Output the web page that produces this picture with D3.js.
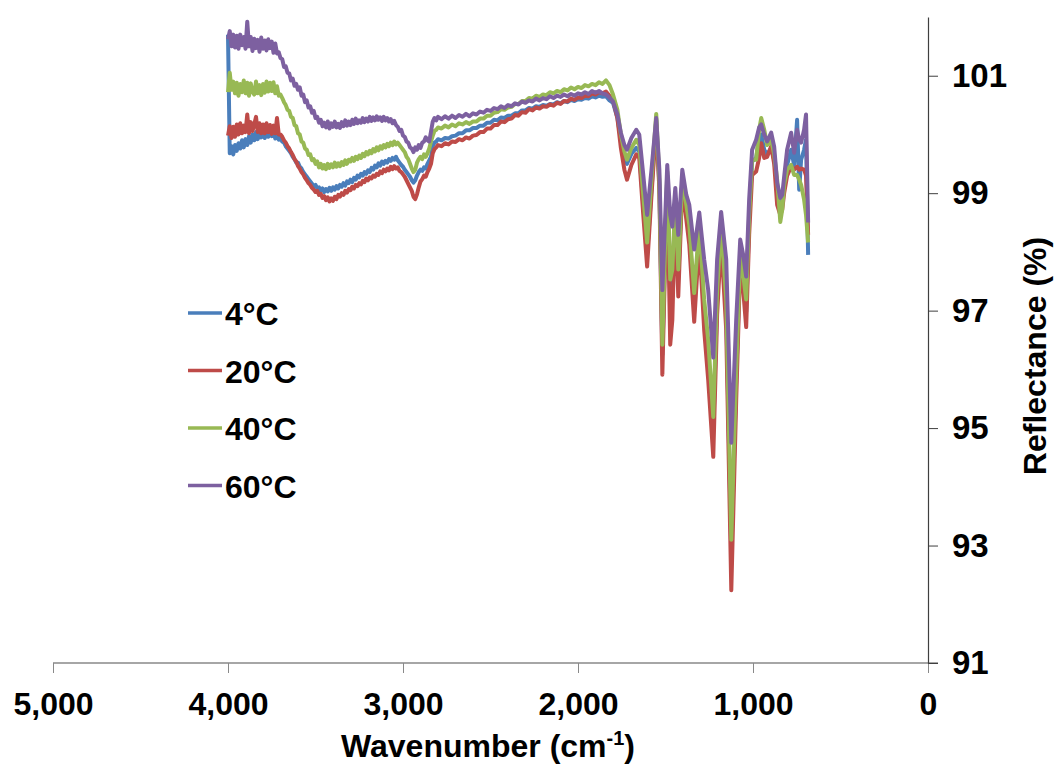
<!DOCTYPE html>
<html>
<head>
<meta charset="utf-8">
<script src="https://cdn.jsdelivr.net/npm/d3@7"></script>
<style>
  body { margin: 0; background: #fff; }
  svg { font-family: "Liberation Sans", Arial, sans-serif; font-weight: bold; }
</style>
</head>
<body>
<svg id="svg" width="1056" height="765"></svg>
<script>
// wavenumber grid (cm-1), same for all four spectra
var wavenumber = [
  4000,3990,3980,3970,3960,3950,3940,3930,3920,3910,
  3900,3890,3880,3870,3860,3850,3840,3830,3820,3810,
  3800,3790,3780,3770,3760,3750,3740,3730,3720,3710,
  3700,3690,3680,3670,3660,3650,3640,3630,3620,3610,
  3600,3590,3580,3570,3560,3550,3540,3530,3520,3510,
  3500,3490,3480,3470,3460,3450,3440,3430,3420,3410,
  3400,3390,3380,3370,3360,3350,3340,3330,3320,3310,
  3300,3290,3280,3270,3260,3250,3240,3230,3220,3210,
  3200,3190,3180,3170,3160,3150,3140,3130,3120,3110,
  3100,3090,3080,3070,3060,3050,3040,3030,3020,3010,
  3000,2990,2980,2970,2960,2950,2940,2930,2920,2910,
  2900,2890,2880,2870,2860,2850,2840,2830,2820,2810,
  2800,
  2780,2760,2740,2720,2700,2680,2660,2640,2620,2600,
  2580,2560,2540,2520,2500,2480,2460,2440,2420,2400,
  2380,2360,2340,2320,2300,2280,2260,2240,2220,2200,
  2180,2160,2140,2120,2100,2080,2060,2040,2020,2000,
  1980,1960,1940,1920,1900,1880,1860,1840,1820,
  1800,1775,1755,1735,1720,1695,1667,1650,1627,1605,
  1580,1553,1535,1518,1500,1490,1473,1461,1444,1427,
  1404,1381,1364,1336,1307,1279,1256,1227,1205,1182,
  1153,1124,1096,1073,1056,1039,1022,1005,982,965,
  953,936,919,896,879,862,844,833,822,805,
  782,765,748,736,725,708,697,685
];

var r4 = [ // 4°C
  101.70,99.68,99.80,99.66,99.82,99.72,99.85,99.76,99.90,99.78,
  99.92,99.82,99.97,99.86,100.00,99.90,100.04,99.92,100.06,99.95,
  100.05,99.94,100.07,99.96,100.06,99.97,100.05,99.93,100.01,99.91,
  99.94,99.88,99.86,99.80,99.76,99.72,99.68,99.62,99.58,99.52,
  99.52,99.45,99.42,99.36,99.32,99.28,99.24,99.20,99.16,99.12,
  99.14,99.08,99.10,99.04,99.08,99.02,99.07,99.03,99.09,99.04,
  99.10,99.06,99.12,99.08,99.14,99.11,99.17,99.13,99.20,99.17,
  99.23,99.19,99.26,99.23,99.30,99.27,99.33,99.30,99.36,99.33,
  99.39,99.36,99.43,99.40,99.47,99.44,99.51,99.47,99.54,99.50,
  99.55,99.52,99.58,99.55,99.60,99.57,99.62,99.56,99.52,99.48,
  99.45,99.40,99.36,99.32,99.28,99.22,99.18,99.22,99.30,99.36,
  99.40,99.38,99.44,99.42,99.50,99.56,99.62,99.80,99.86,99.88,
  99.92,
  99.90,99.94,99.93,99.97,99.98,100.02,100.02,100.07,100.07,100.11,
  100.11,100.15,100.15,100.20,100.20,100.25,100.24,100.29,100.28,100.32,
  100.32,100.36,100.36,100.41,100.41,100.45,100.44,100.48,100.47,100.50,
  100.49,100.52,100.51,100.55,100.53,100.57,100.55,100.59,100.57,100.60,
  100.59,100.62,100.61,100.65,100.63,100.66,100.64,100.65,100.58,
  100.54,100.28,99.91,99.62,99.50,99.67,99.77,99.71,98.80,97.95,
  99.06,100.25,99.14,96.25,98.29,99.30,97.19,97.44,98.80,97.53,
  99.23,98.72,98.34,97.10,98.38,96.93,96.25,94.97,97.19,98.38,
  97.02,92.84,95.82,97.90,97.49,96.98,98.55,99.54,99.60,99.91,
  100.00,99.74,99.66,99.77,99.57,99.14,98.80,98.89,99.14,99.48,
  99.74,99.48,100.25,99.06,99.57,99.74,99.91,97.95
];

var r20 = [ // 20°C
  99.98,100.14,99.94,100.13,99.96,100.17,100.00,100.19,100.02,100.15,
  100.04,100.34,100.02,100.21,100.06,100.17,100.30,100.04,100.19,100.02,
  100.17,100.02,100.19,100.04,100.16,100.01,100.15,100.02,100.28,100.00,
  100.00,99.96,99.90,99.86,99.80,99.76,99.70,99.65,99.58,99.54,
  99.46,99.42,99.36,99.32,99.26,99.22,99.17,99.14,99.09,99.06,
  99.02,99.04,98.97,98.99,98.92,98.95,98.88,98.93,98.86,98.91,
  98.87,98.94,98.90,98.97,98.94,99.00,98.97,99.04,99.01,99.07,
  99.05,99.11,99.08,99.14,99.12,99.17,99.15,99.21,99.19,99.25,
  99.22,99.27,99.25,99.30,99.28,99.33,99.31,99.37,99.34,99.40,
  99.37,99.42,99.39,99.45,99.41,99.46,99.42,99.44,99.38,99.36,
  99.32,99.28,99.22,99.16,99.10,99.04,98.94,98.90,98.98,99.10,
  99.20,99.24,99.30,99.28,99.36,99.42,99.50,99.68,99.75,99.78,
  99.82,
  99.80,99.85,99.83,99.88,99.87,99.92,99.90,99.95,99.93,99.98,
  99.99,100.04,100.04,100.10,100.10,100.16,100.16,100.22,100.21,100.26,
  100.27,100.33,100.32,100.38,100.37,100.43,100.41,100.46,100.44,100.48,
  100.47,100.51,100.49,100.54,100.52,100.57,100.56,100.61,100.59,100.63,
  100.62,100.66,100.65,100.70,100.68,100.72,100.70,100.73,100.66,
  100.59,100.28,99.77,99.40,99.23,99.48,99.66,99.60,98.63,97.75,
  98.97,100.17,99.06,95.91,98.12,99.23,96.42,96.84,98.72,97.24,
  99.14,98.55,98.12,96.81,98.21,96.67,95.82,94.51,96.93,98.21,
  96.67,92.24,95.48,97.78,97.35,96.72,98.29,99.31,99.37,99.60,
  99.85,99.60,99.62,99.80,99.50,98.80,98.63,98.72,99.00,99.30,
  99.45,99.40,99.45,99.40,99.42,99.40,99.30,98.29
];

var r40 = [ // 40°C
  100.72,101.05,100.76,100.90,100.70,100.88,100.66,100.86,100.72,100.92,
  100.70,100.88,100.66,100.87,100.72,100.68,100.90,100.70,100.84,100.67,
  100.86,100.71,100.90,100.73,100.88,100.74,100.89,100.70,100.82,100.66,
  100.68,100.62,100.55,100.50,100.42,100.40,100.30,100.28,100.16,100.14,
  100.02,100.00,99.88,99.86,99.76,99.74,99.65,99.66,99.56,99.58,
  99.50,99.54,99.44,99.50,99.42,99.48,99.41,99.50,99.43,99.49,
  99.44,99.52,99.45,99.51,99.46,99.53,99.48,99.56,99.50,99.57,
  99.54,99.60,99.55,99.62,99.58,99.64,99.60,99.67,99.63,99.70,
  99.66,99.72,99.68,99.75,99.71,99.78,99.73,99.80,99.76,99.82,
  99.78,99.84,99.80,99.86,99.82,99.88,99.83,99.86,99.82,99.78,
  99.74,99.70,99.62,99.58,99.50,99.42,99.36,99.40,99.52,99.58,
  99.62,99.58,99.66,99.62,99.68,99.76,99.88,99.98,100.06,100.08,
  100.12,
  100.10,100.15,100.12,100.17,100.14,100.19,100.17,100.21,100.18,100.22,
  100.22,100.27,100.27,100.32,100.32,100.37,100.38,100.43,100.42,100.46,
  100.47,100.52,100.52,100.57,100.57,100.62,100.61,100.66,100.64,100.68,
  100.67,100.72,100.70,100.74,100.72,100.77,100.75,100.80,100.77,100.81,
  100.79,100.84,100.82,100.86,100.84,100.89,100.86,100.92,100.84,
  100.68,100.42,100.00,99.71,99.57,99.77,99.91,99.82,98.97,98.16,
  99.23,100.35,99.23,96.42,98.38,99.37,97.53,97.70,98.89,97.70,
  99.26,98.80,98.46,97.30,98.46,97.19,96.50,95.19,97.35,98.46,
  97.19,93.10,95.99,97.95,97.61,97.19,98.63,99.57,99.57,100.08,
  100.28,100.08,99.82,99.91,99.66,99.23,98.51,98.72,99.14,99.40,
  99.48,99.31,99.31,99.23,99.14,98.89,98.63,98.16
];

var r60 = [ // 60°C
  101.62,101.76,101.50,101.70,101.48,101.68,101.46,101.70,101.52,101.66,
  101.46,101.92,101.50,101.66,101.42,101.63,101.47,101.61,101.41,101.65,
  101.46,101.60,101.43,101.62,101.47,101.58,101.39,101.55,101.38,101.40,
  101.30,101.28,101.15,101.16,101.05,101.04,100.92,100.95,100.83,100.86,
  100.76,100.80,100.66,100.68,100.55,100.58,100.46,100.48,100.37,100.40,
  100.28,100.30,100.20,100.25,100.14,100.20,100.12,100.22,100.10,100.19,
  100.13,100.22,100.12,100.18,100.11,100.21,100.14,100.24,100.15,100.22,
  100.16,100.25,100.18,100.27,100.19,100.24,100.20,100.28,100.21,100.27,
  100.22,100.30,100.23,100.29,100.24,100.31,100.25,100.29,100.23,100.30,
  100.24,100.28,100.22,100.26,100.19,100.23,100.16,100.13,100.06,100.08,
  99.98,99.96,99.88,99.86,99.78,99.76,99.70,99.78,99.74,99.82,
  99.77,99.86,99.88,99.95,99.90,99.88,100.05,100.22,100.28,100.24,
  100.30,
  100.26,100.31,100.27,100.32,100.28,100.33,100.30,100.35,100.31,100.36,
  100.34,100.39,100.37,100.42,100.40,100.45,100.43,100.48,100.45,100.50,
  100.48,100.53,100.51,100.56,100.54,100.58,100.56,100.61,100.58,100.62,
  100.60,100.65,100.62,100.66,100.64,100.68,100.65,100.69,100.66,100.70,
  100.68,100.72,100.69,100.74,100.71,100.74,100.70,100.68,100.63,
  100.56,100.34,100.03,99.82,99.74,99.94,100.08,100.00,99.31,98.63,
  99.40,100.28,99.40,97.35,98.72,99.48,98.63,98.43,99.09,98.29,
  99.40,98.97,98.80,98.04,98.67,97.87,97.35,96.20,97.87,98.68,
  97.87,94.75,96.84,98.21,97.95,97.58,98.89,99.74,99.91,100.12,
  100.17,100.00,99.88,100.03,99.79,99.18,98.92,98.97,99.28,99.74,
  100.03,99.69,100.08,99.91,99.86,100.08,100.34,98.50
];

var seriesNames = ["4°C", "20°C", "40°C", "60°C"];
var seriesValues = [r4, r20, r40, r60];
var seriesColors = ["#4A7EBB", "#BE4B48", "#98B954", "#7D60A0"];

var xTicks = [5000, 4000, 3000, 2000, 1000, 0];
var yTicks = [91, 93, 95, 97, 99, 101];

var svg = d3.select('#svg');

var xScale = d3.scaleLinear().domain([5000, 0]).range([53, 928]);
var yScale = d3.scaleLinear().domain([91, 102]).range([663, 17]);

// x axis (grey, ticks down)
var xAxis = svg.append("g")
  .attr("transform", "translate(0,663)")
  .call(d3.axisBottom(xScale).tickValues(xTicks).tickFormat(d3.format(",")).tickSize(10).tickPadding(19).tickSizeOuter(0));
xAxis.select(".domain").attr("stroke", "#898989").attr("stroke-width", 1.5)
  .attr("d", "M53,0H938");
xAxis.selectAll(".tick line").attr("stroke", "#898989").attr("stroke-width", 1);
xAxis.selectAll("text").attr("font-size", 32).attr("font-weight", "bold")
  .attr("font-family", "Liberation Sans, Arial, sans-serif").attr("fill", "#000");

// y axis on the right side (dark, ticks to the right)
var yAxis = svg.append("g")
  .attr("transform", "translate(928,0)")
  .call(d3.axisRight(yScale).tickValues(yTicks).tickSize(10).tickPadding(14).tickSizeOuter(0));
yAxis.select(".domain").attr("stroke", "#3f3f3f").attr("stroke-width", 1.2);
yAxis.selectAll(".tick line").attr("stroke", "#3f3f3f");
yAxis.selectAll("text").attr("font-size", 33).attr("font-weight", "bold")
  .attr("font-family", "Liberation Sans, Arial, sans-serif").attr("fill", "#000");

// axis titles
var xt = svg.append("text")
  .attr("x", 488).attr("y", 757)
  .attr("text-anchor", "middle")
  .attr("font-size", 32).attr("font-weight", "bold");
xt.append("tspan").text("Wavenumber (cm");
xt.append("tspan").attr("font-size", 20).attr("dy", -12).text("-1");
xt.append("tspan").attr("dy", 12).text(")");

svg.append("text")
  .attr("transform", "translate(1046,356) rotate(-90)")
  .attr("text-anchor", "middle")
  .attr("font-size", 32).attr("font-weight", "bold")
  .text("Reflectance (%)");

// spectra
var line = d3.line()
  .x(function(d) { return xScale(d[0]); })
  .y(function(d) { return yScale(d[1]); });

var plot = svg.append("g");
seriesValues.forEach(function(vals, i) {
  var pts = vals.map(function(v, j) { return [wavenumber[j], v]; })
    .filter(function(p) { return p[0] !== undefined; });
  plot.append("path")
    .datum(pts)
    .attr("fill", "none")
    .attr("stroke", seriesColors[i])
    .attr("stroke-width", 4)
    .attr("stroke-linejoin", "round")
    .attr("d", line);
});

// legend
var legend = svg.append("g");
seriesNames.forEach(function(name, i) {
  var y = 313 + i * 57.5;
  legend.append("line")
    .attr("x1", 188).attr("x2", 222).attr("y1", y).attr("y2", y)
    .attr("stroke", seriesColors[i]).attr("stroke-width", 3.5);
  legend.append("text")
    .attr("x", 225).attr("y", y + 12)
    .attr("font-size", 32).attr("font-weight", "bold")
    .text(name);
});
</script>
</body>
</html>
